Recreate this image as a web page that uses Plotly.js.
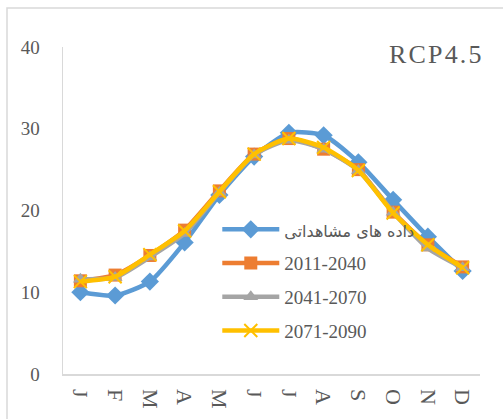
<!DOCTYPE html>
<html>
<head>
<meta charset="utf-8">
<script src="https://cdn.plot.ly/plotly-3.0.1.min.js"></script>
<style>
  html, body { margin: 0; padding: 0; background: #fff; }
  #chart { width: 503px; height: 419px; }
</style>
</head>
<body>
<div id="chart"></div>
<script>
// months, first letter only (Excel style)
var months = ['J', 'F', 'M', 'A', 'M', 'J', 'J', 'A', 'S', 'O', 'N', 'D']

// monthly temperature values
var observed = [10.0, 9.6, 11.3, 16.1, 21.9, 26.6, 29.5, 29.2, 25.9, 21.3, 16.8, 12.6]
var p2011_2040 = [11.4, 12.1, 14.5, 17.6, 22.4, 26.9, 28.8, 27.5, 25.0, 19.8, 15.8, 13.1]
var p2041_2070 = [11.6, 11.8, 14.3, 17.2, 22.2, 26.8, 28.6, 27.5, 24.9, 19.8, 15.4, 13.0]
var p2071_2090 = [11.3, 11.9, 14.6, 17.5, 22.3, 26.9, 28.8, 27.7, 24.9, 19.7, 15.8, 13.0]

var series_names = ['داده های مشاهداتی', '2011-2040', '2041-2070', '2071-2090']
var y_ticks = [0, 10, 20, 30, 40]

var xs = months.map(function (m, i) { return i })

function make_trace(y, name, color, symbol, msize, mline) {
    return {
        x: xs,
        y: y,
        name: name,
        legendgroup: name,
        type: 'scatter',
        mode: 'lines+markers',
        line: { color: color, width: 4.5, shape: 'spline', smoothing: 0.6 },
        marker: { symbol: symbol, size: msize, color: color, line: mline },
        hoverinfo: 'skip'
    }
}

var data = [
    make_trace(observed, '<span style="font-family:\'DejaVu Sans\';font-size:16px">' + series_names[0] + '</span>',
        '#5B9BD5', 'diamond', 14, { width: 0 }),
    make_trace(p2011_2040, series_names[1], '#ED7D31', 'square', 13, { width: 0 }),
    make_trace(p2041_2070, series_names[2], '#A5A5A5', 'triangle-up', 13, { width: 0 }),
    make_trace(p2071_2090, series_names[3], '#FFC000', 'x-thin', 13, { width: 2, color: '#FFC000' })
]

var font_serif = "'Liberation Serif', 'Times New Roman', serif"

var layout = {
    width: 503,
    height: 419,
    margin: { l: 63, r: 23, t: 47, b: 45, pad: 0 },
    paper_bgcolor: '#ffffff',
    plot_bgcolor: '#ffffff',
    font: { family: font_serif, color: '#595959', size: 18 },
    showlegend: true,
    legend: {
        x: 0.37,
        y: 0.50,
        xanchor: 'left',
        yanchor: 'top',
        bgcolor: 'rgba(0,0,0,0)',
        itemwidth: 57,
        traceorder: 'grouped',
        tracegroupgap: 6,
        font: { family: font_serif, size: 19, color: '#595959' }
    },
    xaxis: {
        range: [-0.5, 11.5],
        tickvals: xs,
        ticktext: months,
        tickangle: 90,
        showgrid: false,
        zeroline: false,
        showline: true,
        linecolor: '#d9d9d9',
        linewidth: 1.5,
        ticks: '',
        ticklabelstandoff: 9,
        automargin: false,
        tickfont: { family: font_serif, size: 22, color: '#595959' }
    },
    yaxis: {
        range: [0, 40],
        tickvals: y_ticks,
        showgrid: false,
        zeroline: false,
        showline: true,
        linecolor: '#d9d9d9',
        linewidth: 1.5,
        ticks: '',
        ticklabelstandoff: 18,
        automargin: false,
        tickfont: { family: font_serif, size: 19, color: '#595959' }
    },
    annotations: [
        {
            xref: 'paper', yref: 'paper',
            x: 1.01, y: 0.976,
            xanchor: 'right', yanchor: 'middle',
            text: 'R\u200aC\u200aP\u200a4\u200a.\u200a5',
            showarrow: false,
            font: { family: font_serif, size: 26, color: '#595959' }
        }
    ],
    shapes: [
        {
            type: 'rect', xref: 'paper', yref: 'paper',
            x0: -0.1343, x1: 1.3, y0: -0.5, y1: 1.1193,
            line: { color: '#d9d9d9', width: 1.5 },
            fillcolor: 'rgba(0,0,0,0)',
            layer: 'below'
        }
    ]
}

Plotly.newPlot('chart', data, layout, { displayModeBar: false, staticPlot: true })
</script>
</body>
</html>
